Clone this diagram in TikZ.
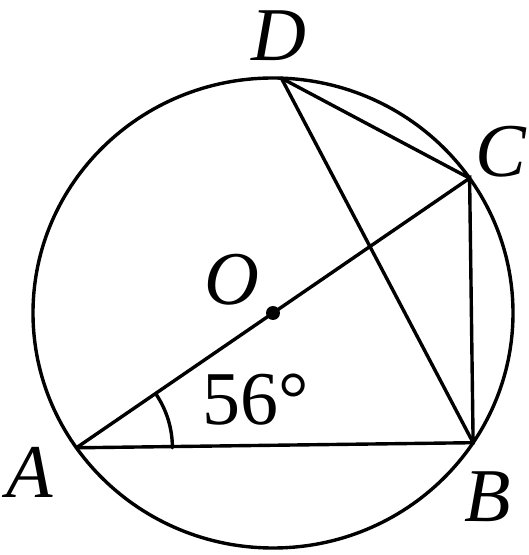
\documentclass[tikz,border=0pt]{standalone}
\usepackage{fontspec}
\setmainfont{Liberation Serif}
\usetikzlibrary{calc}

\begin{document}
\begin{tikzpicture}[x=1pt, y=1pt, line width=3.4pt, line cap=round,
  lbl/.style={font=\fontsize{76}{76}\selectfont\itshape, inner sep=0pt},
  num/.style={font=\fontsize{76}{76}\selectfont, inner sep=0pt}]
  \useasboundingbox (0,0) rectangle (529,555);
  \coordinate (O) at (273,242);
  \coordinate (A) at ($(O)+(215:240 and 235)$);
  \coordinate (B) at ($(O)+(-33.5:240 and 235)$);
  \coordinate (C) at ($(O)+(35:240 and 235)$);
  \coordinate (D) at ($(O)+(88:240 and 235)$);
  \draw (O) ellipse [x radius=240pt, y radius=235pt];
  \draw (A) -- (B) -- (C) -- (A);
  \draw (D) -- (B);
  \draw (D) -- (C);
  \fill (O) circle (7pt);
  \draw ($(A)+(96,0)$) arc[start angle=0, end angle=34, radius=96pt];
  \node[lbl] (labA) at (30,83) {A};
  \node[lbl] (labB) at (488,58) {B};
  \node[lbl, anchor=west] (labC) at (474,403) {C};
  \node[lbl] (labD) at (279,519) {D};
  \node[lbl] (labO) at (232,275) {O};
  \node[num] (ang) at (256,155) {56°};
\end{tikzpicture}
\end{document}
